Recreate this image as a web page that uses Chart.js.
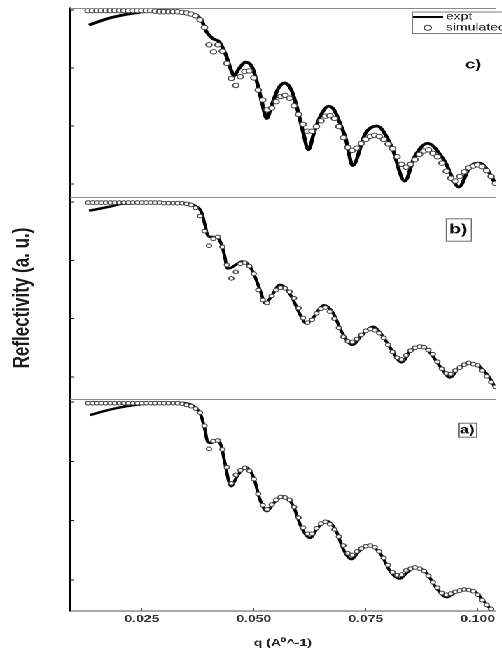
<!DOCTYPE html>
<html>
<head>
<meta charset="utf-8">
<script src="https://cdn.jsdelivr.net/npm/chart.js@4.4.1/dist/chart.umd.min.js"></script>
<style>
  html, body { margin: 0; padding: 0; background: #fff; overflow: hidden; }
  /* the figure is drawn narrow and widened by 1.4 */
  #stage { position: absolute; left: 0; top: 0; width: 359px; height: 655px; transform: scaleX(1.4); transform-origin: 0 0; }
  .panel { position: absolute; left: 0; top: 0; width: 359px; height: 655px; }
</style>
</head>
<body>
<div id="stage">
  <div class="panel"><canvas id="panelC"></canvas></div>
  <div class="panel"><canvas id="panelB"></canvas></div>
  <div class="panel"><canvas id="panelA"></canvas></div>
</div>
<script>
// q grid of the simulated curves (A^-1)
const qSim = [
  0.013, 0.014, 0.015, 0.016, 0.017, 0.018, 0.019, 0.020, 0.021, 0.022,
  0.023, 0.024, 0.025, 0.026, 0.027, 0.028, 0.029, 0.030, 0.031, 0.032,
  0.033, 0.034, 0.035, 0.036, 0.037, 0.038, 0.039, 0.040, 0.041, 0.042,
  0.043, 0.044, 0.045, 0.046, 0.047, 0.048, 0.049, 0.050, 0.051, 0.052,
  0.053, 0.054, 0.055, 0.056, 0.057, 0.058, 0.059, 0.060, 0.061, 0.062,
  0.063, 0.064, 0.065, 0.066, 0.067, 0.068, 0.069, 0.070, 0.071, 0.072,
  0.073, 0.074, 0.075, 0.076, 0.077, 0.078, 0.079, 0.080, 0.081, 0.082,
  0.083, 0.084, 0.085, 0.086, 0.087, 0.088, 0.089, 0.090, 0.091, 0.092,
  0.093, 0.094, 0.095, 0.096, 0.097, 0.098, 0.099, 0.100, 0.101, 0.102,
  0.103, 0.104
];

// log10 reflectivity, simulated
const simC = [
  -0.01, -0.01, -0.01, -0.01, -0.01, -0.01, -0.01, -0.01, -0.01, -0.01,
  -0.01, -0.01, -0.01, -0.01, -0.01, -0.02, -0.03, -0.03, -0.03, -0.03,
  -0.03, -0.04, -0.05, -0.07, -0.10, -0.17, -0.30, -0.60, -0.72, -0.60,
  -0.71, -0.92, -1.18, -1.30, -1.15, -1.06, -1.05, -1.17, -1.38, -1.55,
  -1.72, -1.69, -1.58, -1.49, -1.47, -1.52, -1.65, -1.80, -1.97, -2.09,
  -2.09, -2.01, -1.91, -1.83, -1.82, -1.87, -2.01, -2.20, -2.37, -2.42,
  -2.38, -2.30, -2.23, -2.18, -2.16, -2.18, -2.23, -2.31, -2.39, -2.53,
  -2.66, -2.71, -2.66, -2.58, -2.49, -2.43, -2.41, -2.47, -2.53, -2.64,
  -2.78, -2.90, -2.95, -2.87, -2.79, -2.72, -2.69, -2.67, -2.70, -2.77,
  -2.87, -2.99
];
const simB = [
  -0.01, -0.01, -0.01, -0.01, -0.01, -0.01, -0.01, -0.01, -0.01, -0.01,
  -0.01, -0.01, -0.01, -0.01, -0.01, -0.01, -0.01, -0.02, -0.02, -0.02,
  -0.02, -0.02, -0.03, -0.05, -0.10, -0.24, -0.50, -0.75, -0.63, -0.60,
  -0.77, -1.08, -1.31, -1.20, -1.06, -1.04, -1.10, -1.23, -1.51, -1.68,
  -1.73, -1.61, -1.51, -1.47, -1.48, -1.54, -1.65, -1.82, -1.99, -2.07,
  -2.02, -1.91, -1.83, -1.81, -1.88, -2.00, -2.16, -2.31, -2.39, -2.40,
  -2.35, -2.28, -2.21, -2.18, -2.20, -2.25, -2.33, -2.45, -2.57, -2.67,
  -2.70, -2.63, -2.55, -2.50, -2.48, -2.49, -2.54, -2.61, -2.74, -2.86,
  -2.94, -2.95, -2.89, -2.84, -2.79, -2.76, -2.78, -2.80, -2.89, -2.99,
  -3.09, -3.17
];
const simA = [
  -0.02, -0.02, -0.02, -0.02, -0.02, -0.02, -0.02, -0.02, -0.02, -0.02,
  -0.02, -0.02, -0.02, -0.02, -0.02, -0.02, -0.02, -0.02, -0.02, -0.02,
  -0.02, -0.03, -0.05, -0.07, -0.11, -0.18, -0.40, -0.79, -0.66, -0.65,
  -0.80, -1.10, -1.37, -1.23, -1.15, -1.11, -1.16, -1.30, -1.55, -1.74,
  -1.81, -1.73, -1.65, -1.60, -1.61, -1.65, -1.77, -1.95, -2.12, -2.22,
  -2.22, -2.13, -2.05, -2.02, -2.06, -2.15, -2.27, -2.42, -2.55, -2.58,
  -2.52, -2.47, -2.43, -2.42, -2.45, -2.52, -2.63, -2.75, -2.87, -2.92,
  -2.91, -2.84, -2.81, -2.79, -2.81, -2.85, -2.93, -3.04, -3.13, -3.22,
  -3.25, -3.23, -3.20, -3.18, -3.16, -3.17, -3.19, -3.25, -3.34, -3.42,
  -3.49, -3.56
];

// measured curves
const qExptC = [
  0.0132, 0.0178, 0.0236, 0.0288, 0.0346, 0.0368, 0.0383, 0.0394, 0.0408, 0.0423,
  0.0438, 0.0449, 0.0456, 0.0467, 0.0482, 0.0496, 0.0507, 0.0518, 0.0529, 0.0540,
  0.0555, 0.0569, 0.0584, 0.0595, 0.0610, 0.0622, 0.0635, 0.0650, 0.0667, 0.0679,
  0.0694, 0.0705, 0.0721, 0.0749, 0.0775, 0.0808, 0.0837, 0.0859, 0.0888, 0.0925,
  0.0958, 0.0983, 0.1005, 0.1027, 0.1039
];
const exptC = [
  -0.26, -0.14, -0.05, -0.01, -0.04, -0.09, -0.17, -0.37, -0.49, -0.55,
  -0.78, -1.03, -1.13, -1.01, -0.90, -0.98, -1.24, -1.58, -1.87, -1.64,
  -1.35, -1.26, -1.38, -1.64, -2.10, -2.41, -2.10, -1.81, -1.66, -1.72,
  -1.98, -2.21, -2.68, -2.13, -2.00, -2.36, -2.95, -2.53, -2.30, -2.59,
  -3.05, -2.70, -2.64, -2.82, -2.99
];
const qExptB = [
  0.0132, 0.0178, 0.0207, 0.0288, 0.0346, 0.0368, 0.0383, 0.0391, 0.0397, 0.0405,
  0.0416, 0.0427, 0.0435, 0.0441, 0.0449, 0.0463, 0.0474, 0.0489, 0.0500, 0.0514,
  0.0526, 0.0540, 0.0558, 0.0573, 0.0588, 0.0606, 0.0617, 0.0632, 0.0657, 0.0676,
  0.0698, 0.0720, 0.0742, 0.0766, 0.0786, 0.0808, 0.0830, 0.0851, 0.0875, 0.0895,
  0.0917, 0.0938, 0.0958, 0.0983, 0.1005, 0.1027, 0.1038
];
const exptB = [
  -0.15, -0.08, -0.03, -0.02, -0.02, -0.06, -0.17, -0.39, -0.57, -0.60,
  -0.60, -0.71, -0.93, -1.14, -1.13, -1.06, -1.02, -1.08, -1.23, -1.51,
  -1.74, -1.61, -1.42, -1.49, -1.68, -1.97, -2.08, -1.99, -1.77, -1.89,
  -2.25, -2.45, -2.28, -2.14, -2.28, -2.54, -2.75, -2.54, -2.47, -2.60,
  -2.83, -3.01, -2.85, -2.77, -2.83, -3.02, -3.17
];
const qExptA = [
  0.0134, 0.0178, 0.0236, 0.0324, 0.0354, 0.0371, 0.0382, 0.0391, 0.0397, 0.0405,
  0.0416, 0.0427, 0.0435, 0.0449, 0.0463, 0.0482, 0.0500, 0.0514, 0.0529, 0.0545,
  0.0566, 0.0588, 0.0606, 0.0626, 0.0643, 0.0664, 0.0683, 0.0701, 0.0718, 0.0736,
  0.0756, 0.0782, 0.0806, 0.0826, 0.0843, 0.0863, 0.0885, 0.0909, 0.0931, 0.0949,
  0.0971, 0.0994, 0.1015, 0.1032
];
const exptA = [
  -0.22, -0.13, -0.05, -0.01, -0.03, -0.10, -0.22, -0.47, -0.67, -0.69,
  -0.64, -0.73, -1.01, -1.42, -1.25, -1.10, -1.28, -1.65, -1.84, -1.70,
  -1.59, -1.75, -2.11, -2.29, -2.12, -2.01, -2.16, -2.50, -2.65, -2.51,
  -2.42, -2.55, -2.87, -2.98, -2.87, -2.79, -2.88, -3.15, -3.29, -3.22,
  -3.17, -3.20, -3.37, -3.52
];

const xTicks = [0.025, 0.050, 0.075, 0.100];
const yTicks = [0, -1, -2, -3];

const FONT = "'Liberation Sans', Arial, sans-serif";

function toPoints(xs, ys) {
  return xs.map((x, i) => ({ x: x, y: ys[i] }));
}

// frame line, panel tag and (top panel only) the key
const panelDecor = {
  id: 'panelDecor',
  afterDraw(chart, args, opts) {
    const ctx = chart.ctx;
    const area = chart.chartArea;
    ctx.save();

    ctx.strokeStyle = '#8c8c8c';
    ctx.lineWidth = 1;
    ctx.beginPath();
    ctx.moveTo(area.left, area.top + 0.5);
    ctx.lineTo(area.right, area.top + 0.5);
    ctx.stroke();

    if (opts.box) {
      const b = opts.box;
      ctx.strokeStyle = '#6e6e6e';
      ctx.strokeRect(b[0] + 0.5, b[1] + 0.5, b[2], b[3]);
    }
    ctx.fillStyle = '#111';
    ctx.font = opts.font;
    ctx.textAlign = 'center';
    ctx.textBaseline = 'middle';
    ctx.fillText(opts.text, opts.x, opts.y);

    if (opts.key) {
      const k = opts.key;
      ctx.fillStyle = '#fff';
      ctx.fillRect(k.x, k.y, k.w, k.h);
      ctx.strokeStyle = '#7a7a7a';
      ctx.strokeRect(k.x + 0.5, k.y + 0.5, k.w, k.h);

      const line = chart.data.datasets[1];
      const dots = chart.data.datasets[0];
      ctx.strokeStyle = line.borderColor;
      ctx.lineWidth = 2;
      ctx.beginPath();
      ctx.moveTo(k.x + 1, k.y + 5.5);
      ctx.lineTo(k.x + 22.5, k.y + 5.5);
      ctx.stroke();

      ctx.lineWidth = 1;
      ctx.strokeStyle = dots.pointBorderColor;
      ctx.fillStyle = '#fff';
      ctx.beginPath();
      ctx.arc(k.x + 11.5, k.y + 16.3, 2.6, 0, Math.PI * 2);
      ctx.fill();
      ctx.stroke();

      ctx.fillStyle = '#222';
      ctx.font = '10px ' + FONT;
      ctx.textAlign = 'left';
      ctx.fillText(line.label, k.x + 24.5, k.y + 5.3);
      ctx.fillText(dots.label, k.x + 24.5, k.y + 16.3);
    }
    ctx.restore();
  }
};

function makePanel(id, p) {
  const xAxis = {
    type: 'linear',
    min: 0.008985,
    max: 0.104,
    display: p.showX,
    afterBuildTicks: s => { s.ticks = xTicks.map(v => ({ value: v })); },
    border: { display: true, color: '#555', width: 1 },
    grid: { display: true, drawOnChartArea: false, drawTicks: true, tickLength: -3, tickColor: '#555' },
    ticks: {
      color: '#333',
      padding: 5,
      maxRotation: 0,
      font: { family: FONT, size: 10, weight: 'bold' },
      callback: v => v.toFixed(3)
    },
    title: {
      display: p.showX,
      text: 'q (A\u2070^-1)',
      color: '#222',
      padding: { top: 0, bottom: 6 },
      font: { family: FONT, size: 10, weight: 'bold' }
    }
  };
  // only the bottom panel keeps a strip for the q axis
  if (p.showX) {
    xAxis.afterFit = s => { s.height = 44; };
  }

  const yAxis = {
    type: 'linear',
    position: 'left',
    min: p.yMin,
    max: p.yMax,
    afterBuildTicks: s => { s.ticks = yTicks.map(v => ({ value: v })); },
    afterFit: s => { s.width = 50; },
    border: { display: true, color: '#000', width: 1.5 },
    grid: { display: true, drawOnChartArea: false, drawTicks: true, tickLength: -3, tickColor: '#111' },
    ticks: { display: false },
    title: {
      display: !!p.yTitle,
      text: p.yTitle || '',
      color: '#1a1a1a',
      padding: { top: 5.5, bottom: 0 },
      font: { family: FONT, size: 17, weight: 'bold' }
    }
  };

  return new Chart(document.getElementById(id), {
    type: 'line',
    data: {
      datasets: [
        {
          label: 'simulated',
          data: toPoints(qSim, p.sim),
          showLine: false,
          pointRadius: p.r,
          pointBorderWidth: 1,
          pointBorderColor: '#4a4a4a',
          pointBackgroundColor: '#fff',
          borderWidth: 0
        },
        {
          label: 'expt',
          data: toPoints(p.qExpt, p.expt),
          borderColor: '#000',
          borderWidth: p.lw,
          pointRadius: 0,
          fill: false,
          cubicInterpolationMode: 'monotone'
        }
      ]
    },
    options: {
      responsive: true,
      maintainAspectRatio: false,
      animation: false,
      devicePixelRatio: 2,
      layout: { padding: { top: p.top, bottom: p.bottom, left: 0, right: 0 } },
      plugins: {
        legend: { display: false },
        tooltip: { enabled: false },
        panelDecor: p.decor
      },
      scales: { x: xAxis, y: yAxis }
    },
    plugins: [panelDecor]
  });
}

// c) top panel, with the key
makePanel('panelC', {
  sim: simC, qExpt: qExptC, expt: exptC,
  yMin: -3.224, yMax: 0.0345, top: 8, bottom: 458,
  showX: false, r: 2.2, lw: 2.8,
  decor: {
    text: 'c)', x: 338, y: 65, font: 'bold 13px ' + FONT,
    key: { x: 294, y: 11.5, w: 80, h: 21.5 }
  }
});

// b) middle panel, carries the shared y title
makePanel('panelB', {
  sim: simB, qExpt: qExptB, expt: exptB,
  yMin: -3.379, yMax: 0.0858, top: 197, bottom: 256,
  showX: false, r: 1.8, lw: 2.4,
  yTitle: 'Reflectivity (a. u.)',
  decor: {
    text: 'b)', x: 327.3, y: 229.5, font: 'bold 14px ' + FONT,
    box: [318.4, 218.3, 17.9, 22.4]
  }
});

// a) bottom panel, with the q axis
makePanel('panelA', {
  sim: simA, qExpt: qExptA, expt: exptA,
  yMin: -3.524, yMax: 0.0506, top: 399, bottom: 0,
  showX: true, r: 1.8, lw: 2.4,
  decor: {
    text: 'a)', x: 333.7, y: 430, font: 'bold 12px ' + FONT,
    box: [327.4, 422.7, 12.6, 14]
  }
});
</script>
</body>
</html>
